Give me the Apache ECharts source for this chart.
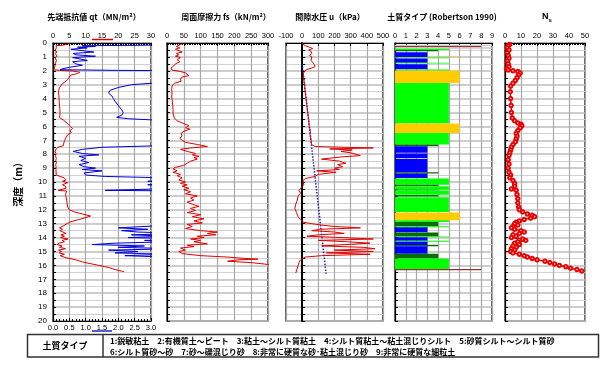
<!DOCTYPE html>
<html><head><meta charset="utf-8">
<script src="https://cdn.jsdelivr.net/npm/echarts@6/dist/echarts.min.js"></script>
<style>html,body{margin:0;padding:0;background:#fff}#c{width:610px;height:381px}</style>
</head><body><div id="c"></div><script>
// ---------- DATA ----------
const depthMin = 0, depthMax = 20;
// 先端抵抗値 qt (MN/m2)
const qtDepth = [0.05,0.1,0.15,0.2,0.25,0.3,0.35,0.45,0.55,0.65,0.75,0.85,0.95,1.05,1.15,1.25,1.35,1.5,1.6,1.75,1.85,1.92,1.97,2.02,2.1,2.2,2.3,2.45,2.6,2.75,2.9,3.0,3.2,3.4,3.6,3.8,4.0,4.2,4.5,4.8,5.0,5.2,5.35,5.45,5.55,5.7,5.85,6.0,6.15,6.3,6.45,6.6,6.8,7.0,7.2,7.4,7.5,7.65,7.8,7.95,8.05,8.15,8.3,8.45,8.6,8.75,8.9,9.0,9.1,9.2,9.35,9.5,9.6,9.7,9.85,9.95,10.05,10.2,10.3,10.45,10.6,10.65,10.9,11.1,11.3,11.5,11.8,12.0,12.15,12.3,12.45,12.55,12.7,12.85,13.0,13.15,13.3,13.4,13.5,13.6,13.7,13.8,13.9,14.0,14.1,14.2,14.3,14.4,14.5,14.6,14.7,14.8,14.9,15.0,15.1,15.2,15.3,15.45,15.6,15.75,15.9,16.0,16.15,16.3,16.45];
const qtValue = [5.0,4.2,3.3,0.9,1.3,0.75,1.05,0.55,0.6,1.25,0.62,0.7,1.3,0.6,0.55,1.05,0.6,0.7,0.9,0.5,0.3,0.22,2.0,6.0,8.2,7.5,5.5,5.0,4.6,4.0,3.0,2.4,2.0,1.75,1.7,1.8,1.85,1.9,2.0,2.1,2.15,2.1,1.95,2.3,3.2,4.0,4.8,5.3,6.0,5.2,5.6,4.5,4.0,3.6,3.3,3.1,1.5,0.9,0.62,0.9,1.4,0.8,1.0,0.85,1.1,0.8,0.95,1.3,0.9,1.5,0.95,1.0,1.6,3.4,4.0,2.9,4.5,2.9,3.8,4.0,1.6,4.2,3.8,4.0,4.2,4.3,4.5,5.0,6.5,9.0,11.5,12.0,8.0,5.5,4.2,3.2,2.0,2.9,2.1,2.6,4.0,2.4,3.5,2.3,4.6,2.8,3.5,1.9,1.2,2.8,2.0,3.8,1.7,2.6,1.9,3.5,2.2,4.0,7.0,9.0,12.0,14.0,17.0,19.0,21.7];
// 周面摩擦力 fs (kN/m2)
const fsDepth = [0.05,0.15,0.25,0.35,0.45,0.55,0.65,0.75,0.85,0.95,1.05,1.2,1.35,1.5,1.65,1.8,1.95,2.05,2.15,2.25,2.35,2.45,2.6,2.75,2.9,3.1,3.3,3.6,3.9,4.2,4.5,4.8,5.1,5.4,5.6,5.8,5.95,6.1,6.2,6.35,6.5,6.7,6.85,7.0,7.15,7.3,7.45,7.55,7.65,7.8,7.95,8.05,8.15,8.25,8.35,8.5,8.65,8.8,8.95,9.05,9.2,9.3,9.45,9.55,9.7,9.85,10.0,10.1,10.2,10.3,10.45,10.55,10.7,10.85,11.0,11.15,11.3,11.45,11.6,11.75,11.9,12.05,12.2,12.35,12.5,12.65,12.8,12.95,13.05,13.2,13.35,13.5,13.6,13.7,13.8,13.9,14.0,14.1,14.2,14.3,14.45,14.55,14.65,14.75,14.9,15.0,15.15,15.3,15.4,15.5,15.55,15.6,15.7,15.8,15.9,16.0];
const fsValue = [45,40,28,38,25,30,45,28,35,25,40,30,38,25,20,12,15,40,55,60,65,45,40,42,22,15,14,15,14,16,17,18,18,22,30,50,65,55,68,50,42,45,38,45,55,90,120,70,40,60,85,75,95,80,90,70,60,50,25,18,30,18,40,30,45,35,55,40,60,45,65,50,70,55,90,70,80,60,75,95,70,85,60,100,75,110,80,105,60,75,55,100,150,120,145,90,110,70,100,80,120,60,80,40,55,35,45,100,180,230,270,210,180,250,290,310];
// 間隙水圧 u (kPa)
const uDepth = [0.05,0.1,0.2,0.3,0.4,0.5,0.6,0.75,0.9,1.0,1.1,1.25,1.4,1.55,1.7,1.8,1.9,2.0,2.2,2.4,2.6,3.0,3.5,4.0,4.5,5.0,5.5,6.0,6.3,6.6,7.0,7.3,7.45,7.55,7.62,7.7,7.8,7.9,8.0,8.1,8.2,8.35,8.5,8.65,8.75,8.9,9.0,9.1,9.2,9.3,9.45,9.6,9.75,9.9,10.0,10.2,10.4,10.6,10.8,11.0,11.3,11.6,11.9,12.2,12.5,12.7,12.9,13.0,13.1,13.2,13.3,13.4,13.5,13.6,13.7,13.8,13.9,14.0,14.1,14.2,14.3,14.4,14.5,14.6,14.7,14.8,14.9,15.0,15.1,15.2,15.3,15.4,15.6,15.8,16.0,16.2,16.4,16.55];
const uValue = [0,5,20,45,65,40,55,60,45,60,70,55,65,75,80,60,30,15,8,8,10,14,19,24,29,34,40,44,50,49,55,58,80,440,170,310,240,300,330,360,240,120,230,270,220,250,200,230,90,210,100,80,20,5,0,10,-5,-20,-10,-25,-30,-40,-45,-35,-25,-10,10,60,120,200,360,110,60,200,260,100,30,250,440,100,280,420,420,120,380,450,200,440,150,420,120,20,-10,-20,-25,-30,-35,-40];
// 静水圧 u0 (kPa)
const u0Depth = [1.5, 16.6];
const u0Value = [0, 148];
// 土質タイプ (Robertson 1990)
const soilTop    = [0.12,0.22,0.30,0.42,0.50,0.66,1.00,1.04,1.12,1.42,1.52,1.90,2.00,2.88,5.80,6.47,7.31,7.43,7.95,8.35,9.30,9.38,9.75,10.19,10.31,10.55,10.62,10.94,11.10,12.19,12.76,12.88,13.19,13.26,13.64,13.92,13.98,14.22,14.29,14.53,14.62,15.17,15.50,16.25];
const soilBottom = [0.22,0.30,0.42,0.50,0.60,1.00,1.04,1.10,1.42,1.48,1.88,1.97,2.88,5.80,6.47,7.31,7.43,7.90,8.30,9.30,9.38,9.71,10.19,10.31,10.55,10.62,10.91,11.04,12.15,12.76,12.88,13.19,13.25,13.62,13.92,13.98,14.22,14.29,14.53,14.62,15.17,15.50,16.25,16.35];
const soilType   = [9,8,9,5,4,3,6,5,3,5,3,5,6,5,6,5,4,3,3,3,4,3,5,4,5,4,5,4,5,6,5,4,5,3,4,5,3,5,3,4,3,4,5,8];
// N値 Ns
const nsDepth = [0.1,0.2,0.35,0.5,0.7,0.9,1.1,1.3,1.5,1.7,1.85,1.95,2.0,2.05,2.15,2.3,2.5,2.7,2.9,3.1,3.5,4.0,4.5,5.0,5.4,5.6,5.75,5.85,5.95,6.1,6.3,6.5,6.7,6.9,7.1,7.3,7.5,7.7,7.9,8.1,8.4,8.7,9.0,9.3,9.5,9.7,9.9,10.1,10.3,10.5,10.6,10.9,11.2,11.5,11.8,12.0,12.15,12.3,12.4,12.5,12.6,12.7,12.8,12.9,13.0,13.1,13.2,13.3,13.4,13.5,13.6,13.7,13.8,13.9,14.0,14.1,14.2,14.3,14.4,14.5,14.6,14.7,14.8,14.9,15.0,15.1,15.2,15.3,15.4,15.5,15.6,15.7,15.8,15.9,16.0,16.1,16.2,16.3,16.4];
const nsValue = [3,2,1.5,2.5,1.5,2,2.5,1.5,2,2.5,1,2,5,8,9.5,8.5,7.5,6.5,5,3.5,3.3,3.5,3.8,4,4.5,6,8,10,10.5,9.5,8,7,7.5,7,6.5,5,4,3.5,3,2.5,2,2.5,2,2.5,3.5,3,5,6,6,4,7,7.5,8,8,8.5,9,11,14,17,18.5,16,12,9,7,6,8,5,4,6,10,12,9,5,7,4,11,13,8,6,9,5,7,4,6,3.5,5,9,12,14,17,20,25,28,31,34,38,41,45,48];
// 軸目盛
const qtTopTicks = [0, 30, 5];
const qtBottomTicks = [0, 3, 0.5];
const fsTicks = [0, 300, 50];
const uTicks = [-100, 500, 100];
const soilTicks = [0, 9, 1];
const nsTicks = [0, 50, 10];
const soilColors = {1:'#ff0000',2:'#996633',3:'#0000ff',4:'#007000',5:'#00ff00',6:'#ffcc00',7:'#ffff99',8:'#993333',9:'#c8c8c8'};
const soilLegend1 = '1:鋭敏粘土　2:有機質土～ピート　3:粘土～シルト質粘土　4:シルト質粘土～粘土混じりシルト　5:砂質シルト～シルト質砂';
const soilLegend2 = '6:シルト質砂～砂　7:砂～礫混じり砂　8:非常に硬質な砂･粘土混じり砂　9:非常に硬質な細粒土';

// ---------- CHART ----------
const FONT = "'Liberation Sans','Noto Sans CJK JP',sans-serif";
const CJK = "'Noto Sans CJK JP','Liberation Sans',sans-serif";
const pairs = (v, d) => v.map((x, i) => [x, d[i]]);

const grids = [
  {left:53, top:43, width:98, height:278},
  {left:167, top:43, width:101, height:278},
  {left:286, top:43, width:97, height:278},
  {left:395, top:43, width:97, height:278},
  {left:505, top:43, width:80, height:278}
].map(g => Object.assign(g, {show:true, borderColor:'#000', borderWidth:1.2, backgroundColor:'transparent'}));

function xAx(gi, pos, t, minor, fmt, split) {
  return {
    type:'value', gridIndex:gi, position:pos, min:t[0], max:t[1], interval:t[2],
    axisLine:{onZero:false, lineStyle:{color:'#000', width:1.2}},
    axisTick:{inside:true, length:3, lineStyle:{color:'#000'}},
    minorTick:{show:minor>0, splitNumber:minor||5, length:2, lineStyle:{color:'#000'}},
    axisLabel:{fontSize:7.5, color:'#000', margin:3, fontFamily:FONT, formatter:fmt},
    splitLine:{show:split, lineStyle:{color:'#a8a8a8', width:1.2}}
  };
}
const xAxes = [
  xAx(0, 'top', qtTopTicks, 10, null, true),
  xAx(0, 'bottom', qtBottomTicks, 5, v => v.toFixed(1), false),
  xAx(1, 'top', fsTicks, 10, null, true),
  xAx(2, 'top', uTicks, 0, null, true),
  xAx(3, 'top', soilTicks, 0, null, true),
  xAx(4, 'top', nsTicks, 10, null, true)
];
const yAxes = [0,1,2,3,4].map(gi => ({
  type:'value', gridIndex:gi, min:depthMin, max:depthMax, interval:1, inverse:true,
  name: gi === 0 ? '深度（m）' : '', nameLocation:'middle', nameRotate:90, nameGap:30,
  nameTextStyle:{fontSize:10, fontWeight:'bold', color:'#000', fontFamily:CJK},
  axisLine:{onZero: gi === 2, lineStyle:{color:'#000', width: gi === 2 ? 2 : 1.2}},
  axisTick:{inside:true, length:3, lineStyle:{color:'#000'}},
  minorTick:{show:true, splitNumber:2, length:3, lineStyle:{color:'#000'}},
  axisLabel:{show: gi === 0, fontSize:8, color:'#000', margin:6, fontFamily:FONT},
  splitLine:{show:true, lineStyle:{color:'#bdbdbd', width:1.5}},
  minorSplitLine:{show:true, lineStyle:{color:'#d2d2d2', width:1}}
}));

const lineS = (xi, yi, data, color, w, extra) => Object.assign({
  type:'line', xAxisIndex:xi, yAxisIndex:yi, data, showSymbol:false, clip:true,
  lineStyle:{color, width:w}, itemStyle:{color}, silent:true, animation:false
}, extra || {});

const soilData = soilTop.map((t, i) => [t, soilBottom[i], soilType[i]]);

const series = [
  lineS(0, 0, pairs(qtValue, qtDepth), '#e00000', 1),
  lineS(1, 0, pairs(qtValue, qtDepth), '#0000dd', 1),
  lineS(2, 1, pairs(fsValue, fsDepth), '#e00000', 1),
  lineS(3, 2, pairs(u0Value, u0Depth), '#2020d0', 1.5, {lineStyle:{color:'#2020d0', width:1.5, type:'dotted'}}),
  lineS(3, 2, pairs(uValue, uDepth), '#e00000', 1),
  {
    type:'custom', xAxisIndex:4, yAxisIndex:3, data:soilData, animation:false, silent:true,
    encode:{x:2, y:[0,1]},
    renderItem: (params, api) => {
      const p0 = api.coord([0, api.value(0)]);
      const p1 = api.coord([api.value(2), api.value(1)]);
      return {type:'rect', shape:{x:p0[0], y:p0[1], width:p1[0]-p0[0], height:p1[1]-p0[1]},
              style:{fill: soilColors[api.value(2)]}};
    }
  },
  lineS(5, 4, pairs(nsValue, nsDepth), '#ee0000', 1.5, {showSymbol:true, symbol:'emptyCircle', symbolSize:3.5,
        itemStyle:{color:'#ee0000', borderWidth:1}})
];

const tFont = 'bold 8px ' + CJK;
const graphic = [
  {type:'text', x:94, y:17, style:{text:'先端抵抗値 qt（MN/m²）', font:tFont, fill:'#000', align:'center', verticalAlign:'middle'}},
  {type:'text', x:226, y:17, style:{text:'周面摩擦力 fs（kN/m²）', font:tFont, fill:'#000', align:'center', verticalAlign:'middle'}},
  {type:'text', x:330, y:17, style:{text:'間隙水圧 u（kPa）', font:tFont, fill:'#000', align:'center', verticalAlign:'middle'}},
  {type:'text', x:442, y:17, style:{text:'土質タイプ (Robertson 1990)', font:tFont, fill:'#000', align:'center', verticalAlign:'middle'}},
  {type:'text', x:547, y:17, style:{text:'{n|N}{s|s}', rich:{n:{font:'bold 9px ' + FONT, fill:'#000'}, s:{font:'bold 6px ' + FONT, fill:'#000', padding:[6,0,0,0]}}, align:'center', verticalAlign:'middle'}},
  {type:'line', shape:{x1:92, y1:39.5, x2:113, y2:39.5}, style:{stroke:'#e00000', lineWidth:1.5}},
  {type:'line', shape:{x1:92, y1:331, x2:112, y2:331}, style:{stroke:'#2020d0', lineWidth:1.5}},
  {type:'rect', shape:{x:27.5, y:334.5, width:571, height:22.5}, style:{fill:'none', stroke:'#333', lineWidth:1.5}},
  {type:'line', shape:{x1:103, y1:334.5, x2:103, y2:357}, style:{stroke:'#333', lineWidth:1.5}},
  {type:'text', x:65, y:346, style:{text:'土質タイプ', font:'bold 9px ' + CJK, fill:'#000', align:'center', verticalAlign:'middle'}},
  {type:'text', x:110, y:341, style:{text:soilLegend1, font:'bold 8px ' + CJK, fill:'#000', align:'left', verticalAlign:'middle'}},
  {type:'text', x:110, y:352, style:{text:soilLegend2, font:'bold 8px ' + CJK, fill:'#000', align:'left', verticalAlign:'middle'}}
];

const chart = echarts.init(document.getElementById('c'), null, {renderer:'canvas'});
chart.setOption({
  animation:false, backgroundColor:'#fff',
  textStyle:{fontFamily:FONT},
  grid:grids, xAxis:xAxes, yAxis:yAxes, series, graphic
});
</script></body></html>
